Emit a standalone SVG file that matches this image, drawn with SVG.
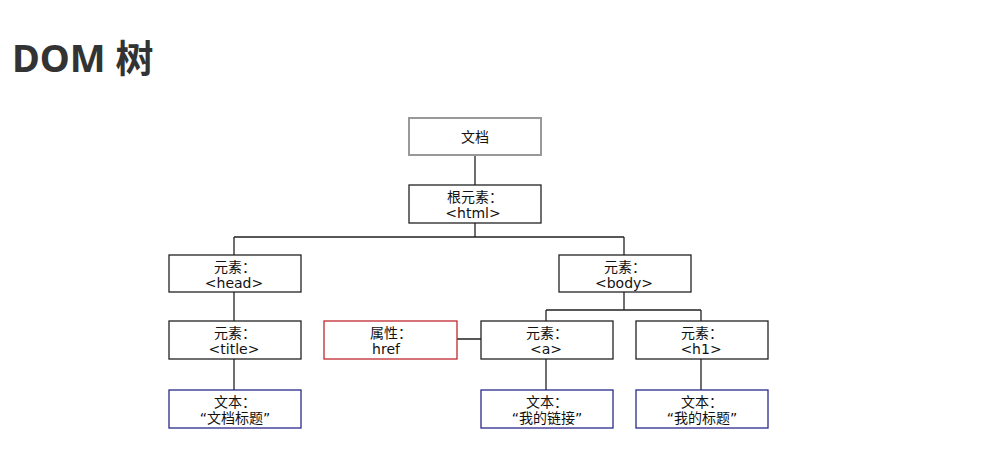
<svg xmlns="http://www.w3.org/2000/svg" width="990" height="455" viewBox="0 0 990 455">
<style>
.t{font-family:"DejaVu Sans","Noto Sans CJK SC",sans-serif;font-size:14px;fill:#111;text-anchor:middle}
.box{fill:#fff;stroke:#222;stroke-width:1.3}
.doc{stroke:#999;stroke-width:2}
.attr{stroke:#c0282e}
.txt{stroke:#2a2a8c}
.c{stroke:#222;stroke-width:1.3;fill:none}
</style>
<rect width="990" height="455" fill="#fff"/>
<text x="12" y="72" font-family="'Noto Sans','Noto Sans CJK SC',sans-serif" font-size="38" font-weight="bold" fill="#333">DOM 树</text>
<g id="connectors">
<path class="c" d="M475 155V185M475 223V237M234 237H624M234 237V255M624 237V255M234 292V321M234 359V390M624 292V310M546 310H701M546 310V321M701 310V321M457 339H481M546 359V390M701 359V390"/>
</g>
<g id="doc"><rect class="box doc" x="409" y="118" width="132" height="37"/><text class="t" x="475" y="142">文档</text></g>
<g id="html"><rect class="box" x="409" y="185" width="132" height="38"/><text class="t" x="475" y="202">根元素：</text><text class="t" x="473" y="218">&lt;html&gt;</text></g>
<g id="head"><rect class="box" x="169" y="255" width="132" height="37"/><text class="t" x="235" y="272">元素：</text><text class="t" x="234" y="288">&lt;head&gt;</text></g>
<g id="body"><rect class="box" x="559" y="255" width="132" height="37"/><text class="t" x="625" y="272">元素：</text><text class="t" x="624" y="288">&lt;body&gt;</text></g>
<g id="title"><rect class="box" x="169" y="321" width="132" height="38"/><text class="t" x="235" y="338">元素：</text><text class="t" x="234" y="354">&lt;title&gt;</text></g>
<g id="href"><rect class="box attr" x="324" y="321" width="133" height="38"/><text class="t" x="391" y="338">属性：</text><text class="t" x="386" y="354">href</text></g>
<g id="a"><rect class="box" x="481" y="321" width="132" height="38"/><text class="t" x="547" y="338">元素：</text><text class="t" x="546" y="354">&lt;a&gt;</text></g>
<g id="h1"><rect class="box" x="636" y="321" width="132" height="38"/><text class="t" x="702" y="338">元素：</text><text class="t" x="701" y="354">&lt;h1&gt;</text></g>
<g id="text1"><rect class="box txt" x="169" y="390" width="132" height="38"/><text class="t" x="235" y="407">文本：</text><text class="t" x="235" y="423">“文档标题”</text></g>
<g id="text2"><rect class="box txt" x="481" y="390" width="132" height="38"/><text class="t" x="547" y="407">文本：</text><text class="t" x="547" y="423">“我的链接”</text></g>
<g id="text3"><rect class="box txt" x="636" y="390" width="132" height="38"/><text class="t" x="702" y="407">文本：</text><text class="t" x="702" y="423">“我的标题”</text></g>
</svg>
